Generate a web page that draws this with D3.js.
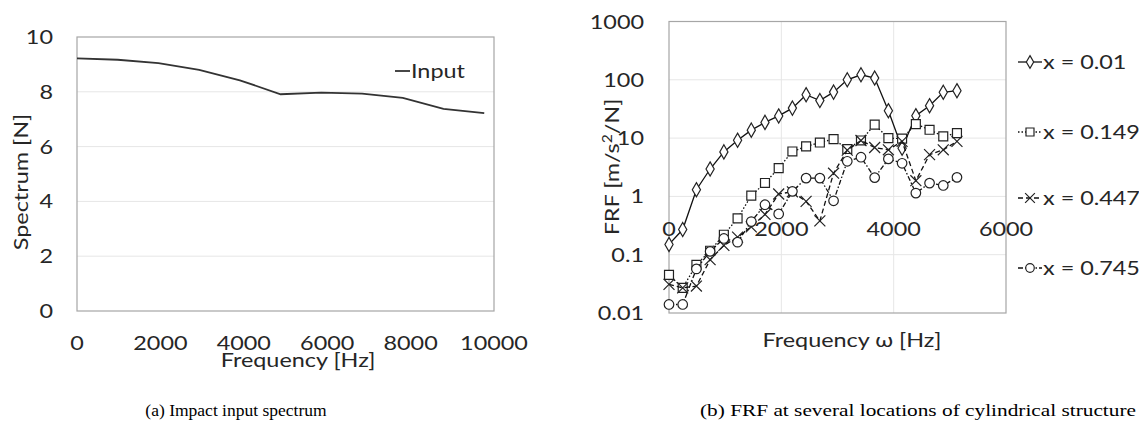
<!DOCTYPE html>
<html>
<head>
<meta charset="utf-8">
<script src="https://cdn.jsdelivr.net/npm/d3@7"></script>
<style>
  body { margin: 0; background: #fff; }
  svg text { font-family: Lato, "Open Sans", sans-serif; fill: #262626; }
  .caption { font-family: "Liberation Serif", "Times New Roman", serif !important; fill: #000 !important; }
</style>
</head>
<body>
<svg id="chart" width="1139" height="431"></svg>
<script>
// (a) input spectrum
var freqA = [0, 977, 1953, 2930, 3906, 4883, 5859, 6836, 7813, 8789, 9766];
var spectrum = [9.22, 9.17, 9.05, 8.80, 8.42, 7.91, 7.97, 7.93, 7.78, 7.38, 7.22];
var ticksAx = [0, 2000, 4000, 6000, 8000, 10000];
var ticksAy = [0, 2, 4, 6, 8, 10];

// (b) FRF at four locations
var freqB = [0, 244, 488, 732, 977, 1221, 1465, 1709, 1953, 2197, 2441, 2686, 2930, 3174, 3418, 3662, 3906, 4150, 4395, 4639, 4883, 5127];
var frf001 = [0.15, 0.27, 1.3, 2.95, 5.8, 9.2, 13.7, 18.6, 24, 32.7, 55.5, 44, 61.5, 100, 122, 107, 29.5, 6.7, 24.2, 36, 61, 65];
var frf0149 = [0.045, 0.027, 0.067, 0.117, 0.22, 0.42, 1.03, 1.7, 3.06, 5.9, 7.2, 8.4, 9.6, 6.5, 9.1, 17, 10, 9.8, 17.4, 13.9, 10.7, 12.2];
var frf0447 = [0.031, 0.027, 0.029, 0.082, 0.144, 0.2, 0.3, 0.49, 1.1, 1.2, 0.82, 0.38, 2.5, 6.2, 9.1, 6.9, 6.3, 8.8, 1.86, 5.2, 6.3, 8.8];
var frf0745 = [0.014, 0.014, 0.057, 0.114, 0.19, 0.164, 0.37, 0.72, 0.5, 1.22, 2.06, 2.06, 0.84, 4.0, 4.7, 2.1, 4.4, 3.7, 1.14, 1.69, 1.54, 2.12];
var ticksBx = [0, 2000, 4000, 6000];
var ticksBy = [0.01, 0.1, 1, 10, 100, 1000];

var seriesB = [
    {name: 'x = 0.01', values: frf001, symbol: d3.symbolDiamond, size: 58, dash: null},
    {name: 'x = 0.149', values: frf0149, symbol: d3.symbolSquare, size: 80, dash: '1.5,2'},
    {name: 'x = 0.447', values: frf0447, symbol: d3.symbolTimes, size: 80, dash: '5,3'},
    {name: 'x = 0.745', values: frf0745, symbol: d3.symbolCircle, size: 72, dash: '5,2,1.5,2'}
];

var svg = d3.select('#chart');
var gridColor = '#e6e6e6';
var frameColor = '#a6a6a6';
var fs = 19.5;      // label font size
var sx = 1.2;       // source glyphs are wider than Lato

// text placed at (x, y), stretched along its baseline
function label(g, x, y, str, anchor, rot) {
    return g.append('text')
        .attr('transform', 'translate(' + x + ',' + y + ')' + (rot ? ' rotate(' + rot + ')' : '') + ' scale(' + sx + ',1)')
        .attr('text-anchor', anchor || 'start')
        .style('font-size', fs + 'px')
        .text(str);
}

// ---------- left chart ----------
var xa = d3.scaleLinear().domain([0, 10000]).range([77, 494]);
var ya = d3.scaleLinear().domain([0, 10]).range([311, 37]);
var ga = svg.append('g');

ga.selectAll('.grid')
    .data(ticksAy.slice(1, -1))
    .enter()
    .append('line')
    .attr('x1', xa(0)).attr('x2', xa(10000))
    .attr('y1', function (d) { return ya(d); })
    .attr('y2', function (d) { return ya(d); })
    .attr('stroke', gridColor);

ga.append('rect')
    .attr('x', xa(0)).attr('y', ya(10))
    .attr('width', xa(10000) - xa(0)).attr('height', ya(0) - ya(10))
    .attr('fill', 'none').attr('stroke', frameColor).attr('stroke-width', 1.2);

ticksAy.forEach(function (d) { label(ga, 53, ya(d) + 7, d, 'end'); });
ticksAx.forEach(function (d) { label(ga, xa(d), 350, d, 'middle'); });
label(ga, 298, 367, 'Frequency [Hz]', 'middle');
label(ga, 28, 182, 'Spectrum [N]', 'middle', -90);

var lineA = d3.line()
    .x(function (d, i) { return xa(freqA[i]); })
    .y(function (d) { return ya(d); });

ga.append('path')
    .datum(spectrum)
    .attr('d', lineA)
    .attr('fill', 'none').attr('stroke', '#333').attr('stroke-width', 1.8);

ga.append('line')
    .attr('x1', 395).attr('x2', 410).attr('y1', 71).attr('y2', 71)
    .attr('stroke', '#333').attr('stroke-width', 1.8);
label(ga, 411, 78, 'Input');

// ---------- right chart ----------
var xb = d3.scaleLinear().domain([0, 6000]).range([669, 1006]);
var yb = d3.scaleLog().domain([0.01, 1000]).range([313, 21.5]);
var gb = svg.append('g');

gb.selectAll('.hgrid')
    .data(ticksBy.slice(1, -1))
    .enter()
    .append('line')
    .attr('x1', xb(0)).attr('x2', xb(6000))
    .attr('y1', function (d) { return yb(d); })
    .attr('y2', function (d) { return yb(d); })
    .attr('stroke', gridColor);

gb.selectAll('.vgrid')
    .data(ticksBx.slice(1, -1))
    .enter()
    .append('line')
    .attr('y1', yb(0.01)).attr('y2', yb(1000))
    .attr('x1', function (d) { return xb(d); })
    .attr('x2', function (d) { return xb(d); })
    .attr('stroke', gridColor);

gb.append('rect')
    .attr('x', xb(0)).attr('y', yb(1000))
    .attr('width', xb(6000) - xb(0)).attr('height', yb(0.01) - yb(1000))
    .attr('fill', 'none').attr('stroke', frameColor).attr('stroke-width', 1.2);

ticksBy.forEach(function (d) { label(gb, 644, yb(d) + 7, d, 'end'); });

label(gb, 619, 167, '', 'middle', -90)
    .html('FRF [m/s<tspan dy="-7" style="font-size:13px">2</tspan><tspan dy="7">/N]</tspan>');

var lineB = d3.line()
    .x(function (d, i) { return xb(freqB[i]); })
    .y(function (d) { return yb(d); });

var sg = gb.selectAll('.series')
    .data(seriesB)
    .enter()
    .append('g');

sg.append('path')
    .attr('d', function (s) { return lineB(s.values); })
    .attr('fill', 'none').attr('stroke', '#111').attr('stroke-width', 1.3)
    .attr('stroke-dasharray', function (s) { return s.dash; });

sg.each(function (s) {
    d3.select(this).selectAll('.mark')
        .data(s.values)
        .enter()
        .append('path')
        .attr('d', d3.symbol().type(s.symbol).size(s.size))
        .attr('transform', function (d, i) { return 'translate(' + xb(freqB[i]) + ',' + yb(d) + ')'; })
        .attr('fill', '#fff').attr('stroke', '#222').attr('stroke-width', 1.2);
});

// x tick labels sit on the value-1 crossing, like the source
ticksBx.forEach(function (d) { label(gb, xb(d), 236, d, 'middle'); });
label(gb, 852, 347, 'Frequency ω [Hz]', 'middle');

// legend
var legY = [62, 132, 198, 268];
seriesB.forEach(function (s, i) {
    var lg = gb.append('g').attr('transform', 'translate(1018,' + legY[i] + ')');
    lg.append('line')
        .attr('x1', 0).attr('x2', 24).attr('y1', 0).attr('y2', 0)
        .attr('stroke', '#111').attr('stroke-width', 1.3)
        .attr('stroke-dasharray', s.dash);
    lg.append('path')
        .attr('d', d3.symbol().type(s.symbol).size(s.size * 0.8)())
        .attr('transform', 'translate(12,0)')
        .attr('fill', '#fff').attr('stroke', '#222').attr('stroke-width', 1.2);
    label(lg, 25, 7, s.name);
});

// captions
svg.append('text').attr('class', 'caption')
    .attr('x', 236).attr('y', 416).attr('text-anchor', 'middle').style('font-size', '17.5px')
    .text('(a) Impact input spectrum');
svg.append('text').attr('class', 'caption')
    .attr('x', 918).attr('y', 416).attr('text-anchor', 'middle').style('font-size', '17.5px')
    .attr('textLength', 436).attr('lengthAdjust', 'spacingAndGlyphs')
    .text('(b) FRF at several locations of cylindrical structure');
</script>
</body>
</html>
